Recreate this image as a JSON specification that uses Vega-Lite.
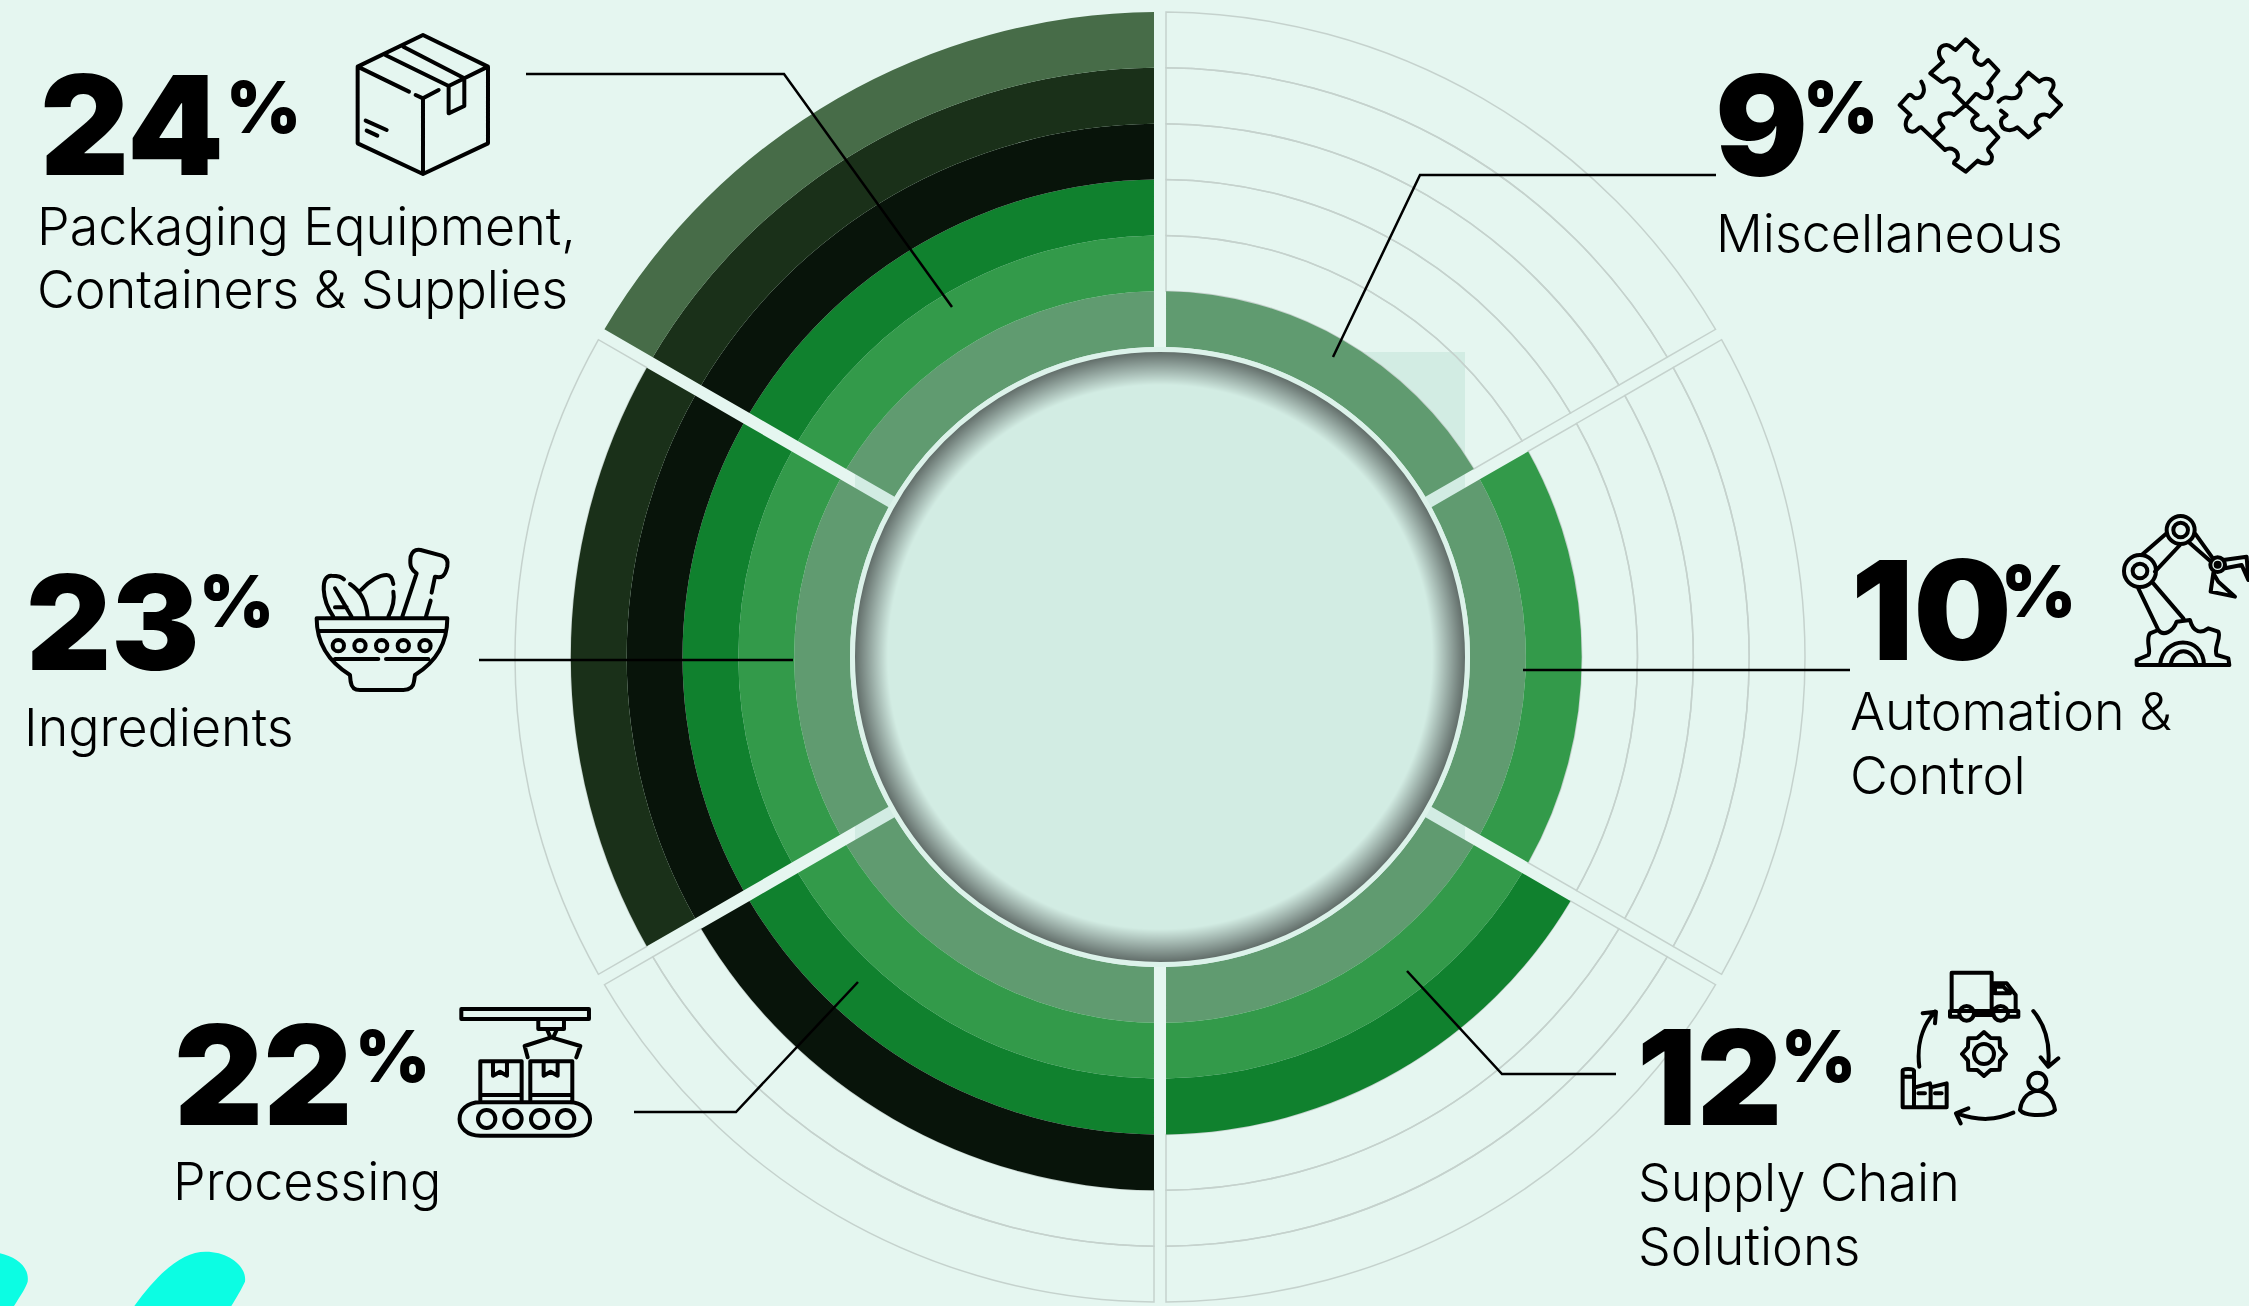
{"$schema":"https://vega.github.io/schema/vega-lite/v6.json","width":2249,"height":1306,"padding":0,"autosize":{"type":"none"},"background":"#e5f6f0","config":{"view":{"stroke":null},"axis":{"disable":true},"text":{"baseline":"alphabetic","align":"left","font":"Inter","color":"#000000"}},
"datasets":{"categories":[{"category":"Miscellaneous","share":9,"label":["Miscellaneous"]},{"category":"Automation & Control","share":10,"label":["Automation &","Control"]},{"category":"Supply Chain Solutions","share":12,"label":["Supply Chain","Solutions"]},{"category":"Processing","share":22,"label":["Processing"]},{"category":"Ingredients","share":23,"label":["Ingredients"]},{"category":"Packaging Equipment, Containers & Supplies","share":24,"label":["Packaging Equipment,","Containers & Supplies"]}],
"cells":[
{"sector":"Miscellaneous","position":1,"ring":1,"inner":0,"outer":1,"span":60,"shade":"r1"},{"sector":"Automation","position":2,"ring":1,"inner":0,"outer":1,"span":60,"shade":"r1"},{"sector":"Supply","position":3,"ring":1,"inner":0,"outer":1,"span":60,"shade":"r1"},{"sector":"Processing","position":4,"ring":1,"inner":0,"outer":1,"span":60,"shade":"r1"},{"sector":"Ingredients","position":5,"ring":1,"inner":0,"outer":1,"span":60,"shade":"r1"},{"sector":"Packaging","position":6,"ring":1,"inner":0,"outer":1,"span":60,"shade":"r1"},
{"sector":"Miscellaneous","position":1,"ring":2,"inner":1,"outer":2,"span":60,"shade":"empty"},{"sector":"Automation","position":2,"ring":2,"inner":1,"outer":2,"span":60,"shade":"r2"},{"sector":"Supply","position":3,"ring":2,"inner":1,"outer":2,"span":60,"shade":"r2"},{"sector":"Processing","position":4,"ring":2,"inner":1,"outer":2,"span":60,"shade":"r2"},{"sector":"Ingredients","position":5,"ring":2,"inner":1,"outer":2,"span":60,"shade":"r2"},{"sector":"Packaging","position":6,"ring":2,"inner":1,"outer":2,"span":60,"shade":"r2"},
{"sector":"Miscellaneous","position":1,"ring":3,"inner":2,"outer":3,"span":60,"shade":"empty"},{"sector":"Automation","position":2,"ring":3,"inner":2,"outer":3,"span":60,"shade":"empty"},{"sector":"Supply","position":3,"ring":3,"inner":2,"outer":3,"span":60,"shade":"r3"},{"sector":"Processing","position":4,"ring":3,"inner":2,"outer":3,"span":60,"shade":"r3"},{"sector":"Ingredients","position":5,"ring":3,"inner":2,"outer":3,"span":60,"shade":"r3"},{"sector":"Packaging","position":6,"ring":3,"inner":2,"outer":3,"span":60,"shade":"r3"},
{"sector":"Miscellaneous","position":1,"ring":4,"inner":3,"outer":4,"span":60,"shade":"empty"},{"sector":"Automation","position":2,"ring":4,"inner":3,"outer":4,"span":60,"shade":"empty"},{"sector":"Supply","position":3,"ring":4,"inner":3,"outer":4,"span":60,"shade":"empty"},{"sector":"Processing","position":4,"ring":4,"inner":3,"outer":4,"span":60,"shade":"r4"},{"sector":"Ingredients","position":5,"ring":4,"inner":3,"outer":4,"span":60,"shade":"r4"},{"sector":"Packaging","position":6,"ring":4,"inner":3,"outer":4,"span":60,"shade":"r4"},
{"sector":"Miscellaneous","position":1,"ring":5,"inner":4,"outer":5,"span":60,"shade":"empty"},{"sector":"Automation","position":2,"ring":5,"inner":4,"outer":5,"span":60,"shade":"empty"},{"sector":"Supply","position":3,"ring":5,"inner":4,"outer":5,"span":60,"shade":"empty"},{"sector":"Processing","position":4,"ring":5,"inner":4,"outer":5,"span":60,"shade":"empty"},{"sector":"Ingredients","position":5,"ring":5,"inner":4,"outer":5,"span":60,"shade":"r5"},{"sector":"Packaging","position":6,"ring":5,"inner":4,"outer":5,"span":60,"shade":"r5"},
{"sector":"Miscellaneous","position":1,"ring":6,"inner":5,"outer":6,"span":60,"shade":"empty"},{"sector":"Automation","position":2,"ring":6,"inner":5,"outer":6,"span":60,"shade":"empty"},{"sector":"Supply","position":3,"ring":6,"inner":5,"outer":6,"span":60,"shade":"empty"},{"sector":"Processing","position":4,"ring":6,"inner":5,"outer":6,"span":60,"shade":"empty"},{"sector":"Ingredients","position":5,"ring":6,"inner":5,"outer":6,"span":60,"shade":"empty"},{"sector":"Packaging","position":6,"ring":6,"inner":5,"outer":6,"span":60,"shade":"r6"}],
"leaders":[{"leader":"Packaging","step":1,"px":526,"py":74},{"leader":"Packaging","step":2,"px":784,"py":74},{"leader":"Packaging","step":3,"px":952,"py":307},{"leader":"Miscellaneous","step":1,"px":1716,"py":175},{"leader":"Miscellaneous","step":2,"px":1420,"py":175},{"leader":"Miscellaneous","step":3,"px":1333,"py":357},{"leader":"Automation","step":1,"px":1850,"py":670},{"leader":"Automation","step":2,"px":1523,"py":670},{"leader":"Supply","step":1,"px":1616,"py":1074},{"leader":"Supply","step":2,"px":1502,"py":1074},{"leader":"Supply","step":3,"px":1407,"py":971},{"leader":"Processing","step":1,"px":634,"py":1112},{"leader":"Processing","step":2,"px":736,"py":1112},{"leader":"Processing","step":3,"px":858,"py":982},{"leader":"Ingredients","step":1,"px":479,"py":660},{"leader":"Ingredients","step":2,"px":793,"py":660}]},
"data":{"name":"categories"},
"layer":[
{"transform":[{"filter":"datum.share==9"}],"mark":{"type":"rect","fill":"#d2ece3"},"encoding":{"x":{"datum":855,"scale":{"domain":[0,2249],"range":[0,2249],"nice":false,"zero":false}},"x2":{"datum":1465},"y":{"datum":352,"scale":{"domain":[0,1306],"range":[0,1306],"nice":false,"zero":false}},"y2":{"datum":962}}},
{"data":{"name":"cells"},"encoding":{"x":{"datum":1160},"y":{"datum":657},"theta":{"field":"span","type":"quantitative","stack":true,"scale":{"domain":[0,360]}},"order":{"field":"position"},"detail":{"field":"sector"},"radius":{"field":"outer","type":"quantitative","scale":{"domain":[0,6],"range":[310,645],"zero":false,"nice":false}},"radius2":{"field":"inner"}},
"layer":[
{"transform":[{"filter":"datum.ring==1"}],"mark":{"type":"arc","padAngle":0.02517,"fill":"transparent","strokeWidth":1.5},"encoding":{"stroke":{"condition":{"test":"datum.shade=='empty'","value":"#c5d2cd"},"value":"transparent"}}},
{"transform":[{"filter":"datum.ring==2"}],"mark":{"type":"arc","padAngle":0.02159,"fill":"transparent","strokeWidth":1.5},"encoding":{"stroke":{"condition":{"test":"datum.shade=='empty'","value":"#c5d2cd"},"value":"transparent"}}},
{"transform":[{"filter":"datum.ring==3"}],"mark":{"type":"arc","padAngle":0.0189,"fill":"transparent","strokeWidth":1.5},"encoding":{"stroke":{"condition":{"test":"datum.shade=='empty'","value":"#c5d2cd"},"value":"transparent"}}},
{"transform":[{"filter":"datum.ring==4"}],"mark":{"type":"arc","padAngle":0.01679,"fill":"transparent","strokeWidth":1.5},"encoding":{"stroke":{"condition":{"test":"datum.shade=='empty'","value":"#c5d2cd"},"value":"transparent"}}},
{"transform":[{"filter":"datum.ring==5"}],"mark":{"type":"arc","padAngle":0.01511,"fill":"transparent","strokeWidth":1.5},"encoding":{"stroke":{"condition":{"test":"datum.shade=='empty'","value":"#c5d2cd"},"value":"transparent"}}},
{"transform":[{"filter":"datum.ring==6"}],"mark":{"type":"arc","padAngle":0.01374,"fill":"transparent","strokeWidth":1.5},"encoding":{"stroke":{"condition":{"test":"datum.shade=='empty'","value":"#c5d2cd"},"value":"transparent"}}},
{"transform":[{"filter":"datum.ring==1"}],"mark":{"type":"arc","padAngle":0.02517},"encoding":{"fill":{"field":"shade","type":"nominal","legend":null,"scale":{"domain":["empty","r1","r2","r3","r4","r5","r6"],"range":["transparent","#609b70","#339a4a","#10812e","#08140a","#1a3019","#476c48"]}}}},
{"transform":[{"filter":"datum.ring==2"}],"mark":{"type":"arc","padAngle":0.02159},"encoding":{"fill":{"field":"shade","type":"nominal","legend":null}}},
{"transform":[{"filter":"datum.ring==3"}],"mark":{"type":"arc","padAngle":0.0189},"encoding":{"fill":{"field":"shade","type":"nominal","legend":null}}},
{"transform":[{"filter":"datum.ring==4"}],"mark":{"type":"arc","padAngle":0.01679},"encoding":{"fill":{"field":"shade","type":"nominal","legend":null}}},
{"transform":[{"filter":"datum.ring==5"}],"mark":{"type":"arc","padAngle":0.01511},"encoding":{"fill":{"field":"shade","type":"nominal","legend":null}}},
{"transform":[{"filter":"datum.ring==6"}],"mark":{"type":"arc","padAngle":0.01374},"encoding":{"fill":{"field":"shade","type":"nominal","legend":null}}}
]},
{"transform":[{"filter":"datum.share==9"}],"mark":{"type":"point","shape":"circle","size":378225,"opacity":1,"filled":true,"stroke":"#dcf2ea","strokeWidth":5,"fill":{"gradient":"radial","x1":0.5,"y1":0.5,"r1":0,"x2":0.5,"y2":0.5,"r2":0.5,"stops":[{"offset":0,"color":"#d2ece3"},{"offset":0.885,"color":"#d2ece3"},{"offset":0.992,"color":"#626e6a"},{"offset":1,"color":"#626e6a"}]}},"encoding":{"x":{"datum":1160},"y":{"datum":657}}},
{"data":{"name":"leaders"},"mark":{"type":"line","color":"#000000","strokeWidth":2.5},"encoding":{"x":{"field":"px","type":"quantitative"},"y":{"field":"py","type":"quantitative"},"detail":{"field":"leader"},"order":{"field":"step"}}},

{"transform":[{"filter":"datum.share==24"}],"mark":{"type":"text","fontWeight":900,"fontSize":138},"encoding":{"x":{"datum":40},"y":{"datum":175},"text":{"field":"share"}}},
{"transform":[{"filter":"datum.share==24"}],"mark":{"type":"text","fontWeight":900,"fontSize":72,"text":"%"},"encoding":{"x":{"datum":226},"y":{"datum":133}}},
{"transform":[{"filter":"datum.share==24"}],"mark":{"type":"text","fontWeight":300,"fontSize":52,"lineHeight":63},"encoding":{"x":{"datum":37},"y":{"datum":244.5},"text":{"field":"label"}}},

{"transform":[{"filter":"datum.share==9"}],"mark":{"type":"text","fontWeight":900,"fontSize":138},"encoding":{"x":{"datum":1715},"y":{"datum":175},"text":{"field":"share"}}},
{"transform":[{"filter":"datum.share==9"}],"mark":{"type":"text","fontWeight":900,"fontSize":72,"text":"%"},"encoding":{"x":{"datum":1803},"y":{"datum":133}}},
{"transform":[{"filter":"datum.share==9"}],"mark":{"type":"text","fontWeight":300,"fontSize":52,"lineHeight":63},"encoding":{"x":{"datum":1716},"y":{"datum":251.5},"text":{"field":"label"}}},

{"transform":[{"filter":"datum.share==10"}],"mark":{"type":"text","fontWeight":900,"fontSize":138},"encoding":{"x":{"datum":1851},"y":{"datum":660},"text":{"field":"share"}}},
{"transform":[{"filter":"datum.share==10"}],"mark":{"type":"text","fontWeight":900,"fontSize":72,"text":"%"},"encoding":{"x":{"datum":2001},"y":{"datum":617}}},
{"transform":[{"filter":"datum.share==10"}],"mark":{"type":"text","fontWeight":300,"fontSize":52,"lineHeight":64},"encoding":{"x":{"datum":1850},"y":{"datum":729.5},"text":{"field":"label"}}},

{"transform":[{"filter":"datum.share==12"}],"mark":{"type":"text","fontWeight":900,"fontSize":132},"encoding":{"x":{"datum":1637},"y":{"datum":1125},"text":{"field":"share"}}},
{"transform":[{"filter":"datum.share==12"}],"mark":{"type":"text","fontWeight":900,"fontSize":72,"text":"%"},"encoding":{"x":{"datum":1781},"y":{"datum":1082}}},
{"transform":[{"filter":"datum.share==12"}],"mark":{"type":"text","fontWeight":300,"fontSize":52,"lineHeight":64},"encoding":{"x":{"datum":1638},"y":{"datum":1200.5},"text":{"field":"label"}}},

{"transform":[{"filter":"datum.share==22"}],"mark":{"type":"text","fontWeight":900,"fontSize":138},"encoding":{"x":{"datum":174},"y":{"datum":1125},"text":{"field":"share"}}},
{"transform":[{"filter":"datum.share==22"}],"mark":{"type":"text","fontWeight":900,"fontSize":72,"text":"%"},"encoding":{"x":{"datum":355},"y":{"datum":1082}}},
{"transform":[{"filter":"datum.share==22"}],"mark":{"type":"text","fontWeight":300,"fontSize":52},"encoding":{"x":{"datum":173},"y":{"datum":1199.5},"text":{"field":"label"}}},

{"transform":[{"filter":"datum.share==23"}],"mark":{"type":"text","fontWeight":900,"fontSize":132},"encoding":{"x":{"datum":26},"y":{"datum":670},"text":{"field":"share"}}},
{"transform":[{"filter":"datum.share==23"}],"mark":{"type":"text","fontWeight":900,"fontSize":72,"text":"%"},"encoding":{"x":{"datum":199},"y":{"datum":627}}},
{"transform":[{"filter":"datum.share==23"}],"mark":{"type":"text","fontWeight":300,"fontSize":52},"encoding":{"x":{"datum":24},"y":{"datum":745.5},"text":{"field":"label"}}},

{"transform":[{"filter":"datum.share==24"}],"mark":{"type":"point","opacity":1,"filled":false,"stroke":"#000000","strokeWidth":4,"strokeJoin":"round","strokeCap":"round","size":0.4444,"shape":"M1269,105L1464,200L1464,430L1269,522L1073,430L1073,200ZM1269,295L1269,522M1073,200L1227,275M1247,285L1269,295L1316,270M1464,200L1346,258L1346,340L1393,318L1393,238M1156,165L1346,258M1210,140L1393,235M1097,362L1160,390M1100,392L1132,407"},"encoding":{"x":{"datum":0},"y":{"datum":0}}},
{"transform":[{"filter":"datum.share==9"}],"mark":{"type":"point","opacity":1,"filled":false,"stroke":"#000000","strokeWidth":4,"strokeJoin":"round","strokeCap":"round","size":0.4444,"shape":"M751,220L789,185C767,160 778,135 800,135C811,135 816,145 827,150L857,118L893,150C876,170 882,190 903,195C914,195 920,180 925,180L955,212L925,250C942,265 936,295 914,295C898,295 898,280 887,282L857,315L822,280C844,260 838,235 811,235C800,235 795,250 784,245ZM724,245C740,270 729,295 708,295C697,295 697,280 686,285L659,315L691,345C669,365 675,395 697,395C713,395 713,380 724,382L795,450C811,440 838,450 833,475C827,485 822,480 822,490L857,515L893,482C903,490 936,500 936,470C936,460 920,455 925,445L955,412L925,380C914,395 882,395 876,365C876,355 893,345 893,345L857,315L822,345C811,335 778,340 778,360C778,375 795,380 789,385L762,410M956,305C974,285 985,295 996,295C1023,295 1029,265 1012,255L1045,218L1078,245C1094,230 1121,235 1121,255C1121,270 1105,275 1112,285L1143,315L1110,350C1099,340 1072,340 1067,365C1067,380 1083,385 1078,385L1045,412L1012,382C996,395 963,395 963,365C963,350 980,350 980,345L963,332"},"encoding":{"x":{"datum":1680},"y":{"datum":0}}},
{"transform":[{"filter":"datum.share==10"}],"mark":{"type":"point","opacity":1,"filled":false,"stroke":"#000000","strokeWidth":4,"strokeJoin":"round","strokeCap":"round","size":0.4444,"shape":"M1040,120A42,42 0 1 0 1124,120A42,42 0 1 0 1040,120ZM1060,120A22,22 0 1 0 1104,120A22,22 0 1 0 1060,120ZM912,243A48,48 0 1 0 1008,243A48,48 0 1 0 912,243ZM938,243A22,22 0 1 0 982,243A22,22 0 1 0 938,243ZM1171,224A22,22 0 1 0 1215,224A22,22 0 1 0 1171,224ZM1187,224A6,6 0 1 0 1199,224A6,6 0 1 0 1187,224ZM1040,130L965,195M1080,165L1005,245M1125,130L1175,200M1110,160L1170,212M955,295L1015,420M1000,280L1090,385M1210,210L1280,200L1285,270L1265,225L1215,235M1180,250L1172,305L1245,320L1195,275L1180,250M950,525L950,510L985,495C995,485 975,450 990,430L1015,420C1030,440 1060,425 1070,395L1110,390C1120,430 1145,430 1165,415L1195,425C1205,445 1180,470 1190,495L1225,505L1228,525ZM1020,525C1030,435 1150,435 1152,525M1052,525C1060,470 1120,470 1130,525"},"encoding":{"x":{"datum":1820},"y":{"datum":490}}},
{"transform":[{"filter":"datum.share==12"}],"mark":{"type":"point","opacity":1,"filled":false,"stroke":"#000000","strokeWidth":4,"strokeJoin":"round","strokeCap":"round","size":0.4444,"shape":"M995,180L995,68L1115,68L1115,180M1115,100L1160,100L1187,135L1187,180M1125,110L1150,110L1170,130L1125,130ZM1018,200L990,200L990,183L1195,183L1195,200L1165,200M1065,195L1118,195M1018,190A22,22 0 1 0 1062,190A22,22 0 1 0 1018,190ZM1120,190A22,22 0 1 0 1164,190A22,22 0 1 0 1120,190ZM1158,312L1140,332L1139,359L1112,360L1092,378L1072,360L1045,359L1044,332L1026,312L1044,292L1045,265L1072,264L1092,246L1112,264L1139,265L1140,292ZM1062,312A30,30 0 1 0 1122,312A30,30 0 1 0 1062,312ZM1240,183C1275,225 1290,280 1285,340M1262,322L1285,350L1315,325M1225,395A27,27 0 1 0 1279,395A27,27 0 1 0 1225,395ZM1200,480C1205,440 1230,425 1252,422C1280,425 1300,445 1305,480C1290,500 1215,500 1200,480ZM1180,488C1130,510 1080,515 1010,490M1045,475L1008,490L1022,520M848,472L848,362C848,355 880,355 882,362L882,472M848,472L980,472L980,400L932,412L930,400L885,412M932,412L932,472M850,380L880,380M895,430L915,430M945,430L965,430M898,350C890,290 905,230 945,185M908,190L948,185L945,220"},"encoding":{"x":{"datum":1620},"y":{"datum":950}}},
{"transform":[{"filter":"datum.share==22"}],"mark":{"type":"point","opacity":1,"filled":false,"stroke":"#000000","strokeWidth":4,"strokeJoin":"round","strokeCap":"round","size":0.4444,"shape":"M1384,87L1767,87L1767,117L1384,117ZM1615,117L1615,147L1692,147L1692,117M1642,150L1651,172L1660,172L1670,150M1654,172L1574,198L1583,232M1654,172L1741,198L1729,232M1441,360L1441,244L1565,244L1565,360M1441,345L1565,345M1591,360L1591,244L1717,244L1717,360M1591,345L1717,345M1479,250L1479,287L1500,275L1521,287L1521,250M1631,250L1631,287L1652,275L1673,287L1673,250M1441,367L1708,367C1791,367 1791,467 1708,467L1441,467C1358,467 1358,367 1441,367ZM1434,417A26,27 0 1 0 1486,417A26,27 0 1 0 1434,417ZM1513,417A26,27 0 1 0 1565,417A26,27 0 1 0 1513,417ZM1593,417A26,27 0 1 0 1645,417A26,27 0 1 0 1593,417ZM1671,417A26,27 0 1 0 1723,417A26,27 0 1 0 1671,417Z"},"encoding":{"x":{"datum":0},"y":{"datum":980}}},
{"transform":[{"filter":"datum.share==23"}],"mark":{"type":"point","opacity":1,"filled":false,"stroke":"#000000","strokeWidth":4,"strokeJoin":"round","strokeCap":"round","size":0.4444,"shape":"M950,295L1342,295M950,295C950,370 985,425 1050,465L1052,485C1055,505 1065,510 1080,510L1210,510C1225,510 1240,505 1242,485L1245,465C1310,425 1342,370 1342,295M955,333L1338,333M1005,417L1135,417M1158,417L1285,417M998,377A17,17 0 1 0 1032,377A17,17 0 1 0 998,377ZM1063,377A17,17 0 1 0 1097,377A17,17 0 1 0 1063,377ZM1128,377A17,17 0 1 0 1162,377A17,17 0 1 0 1128,377ZM1193,377A17,17 0 1 0 1227,377A17,17 0 1 0 1193,377ZM1258,377A17,17 0 1 0 1292,377A17,17 0 1 0 1258,377ZM1000,290C965,240 960,165 995,167C1010,167 1025,170 1032,178M1050,192C1085,215 1100,250 1103,290M1005,205L1055,290M1005,262L1040,262M1083,210C1110,180 1140,165 1160,165C1175,165 1178,180 1180,192M1180,215C1185,240 1175,270 1165,290M1207,290L1250,160C1235,150 1228,140 1232,110C1238,90 1250,88 1262,90L1325,107C1340,112 1345,125 1342,140C1335,170 1325,175 1305,170L1295,218M1292,242L1278,290"},"encoding":{"x":{"datum":0},"y":{"datum":520}}},
{"transform":[{"filter":"datum.share==22"}],"mark":{"type":"point","opacity":1,"filled":true,"fill":"#0cfde3","stroke":null,"size":0.4444,"shape":"M0,820C47,830 89,860 83,905C77,925 59,950 42,978L0,978ZM403,978C474,880 545,815 617,815C688,815 741,860 735,905C723,930 711,950 694,978Z"},"encoding":{"x":{"datum":0},"y":{"datum":980}}}
]}
